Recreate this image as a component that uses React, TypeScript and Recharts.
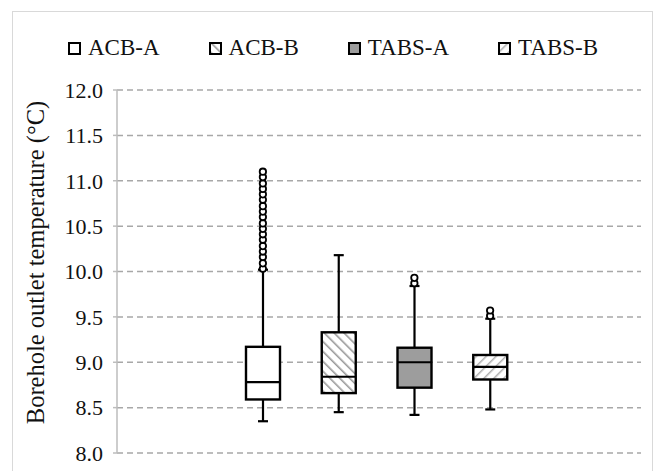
import React from "react";
import { ComposedChart, Bar, Scatter, XAxis, YAxis, CartesianGrid, Label } from "recharts";

const groups = ["ACB-A", "ACB-B", "TABS-A", "TABS-B"];
const mins = [8.35, 8.45, 8.42, 8.48];
const q1s = [8.59, 8.66, 8.72, 8.81];
const medians = [8.78, 8.84, 9.0, 8.95];
const q3s = [9.17, 9.33, 9.16, 9.08];
const maxs = [10.02, 10.18, 9.84, 9.48];

const outliersAcbA = [
  10.03, 10.09, 10.16, 10.22, 10.28, 10.35, 10.41, 10.47, 10.53,
  10.6, 10.66, 10.72, 10.79, 10.85, 10.91, 10.97, 11.04, 11.1,
];
const outliersTabsA = [9.87, 9.93];
const outliersTabsB = [9.51, 9.57];

const yTicks = [8, 8.5, 9, 9.5, 10, 10.5, 11, 11.5, 12];

const rows = groups.map((name, i) => ({
  name,
  range: [mins[i], maxs[i]],
  q1: q1s[i],
  median: medians[i],
  q3: q3s[i],
  min: mins[i],
  max: maxs[i],
}));

const outliers = [
  ...outliersAcbA.map(v => ({ name: "ACB-A", value: v })),
  ...outliersTabsA.map(v => ({ name: "TABS-A", value: v })),
  ...outliersTabsB.map(v => ({ name: "TABS-B", value: v })),
];

const FONT = "Liberation Serif";
const HATCH = "#9a9a9a";

const fills: Record<string, string> = {
  "ACB-A": "#ffffff",
  "ACB-B": "url(#hatch-back)",
  "TABS-A": "#9d9d9d",
  "TABS-B": "url(#hatch-fwd)",
};

function Patterns() {
  return (
    <defs>
      <pattern id="hatch-back" patternUnits="userSpaceOnUse" width="7" height="7" patternTransform="rotate(-45)">
        <rect width="7" height="7" fill="#fff" />
        <line x1="0" y1="0" x2="0" y2="7" stroke={HATCH} strokeWidth="3.2" />
      </pattern>
      <pattern id="hatch-fwd" patternUnits="userSpaceOnUse" width="7" height="7" patternTransform="rotate(45)">
        <rect width="7" height="7" fill="#fff" />
        <line x1="0" y1="0" x2="0" y2="7" stroke="#b0b0b0" strokeWidth="3" />
      </pattern>
    </defs>
  );
}

function BoxShape(props: any) {
  const { x, y, width, height, payload } = props;
  const top = Math.min(y, y + height);
  const h = Math.abs(height);
  const ppu = h / (payload.max - payload.min);
  const yOf = (v: number) => top + (payload.max - v) * ppu;
  const cx = x + width / 2;
  const cap = 5;
  const yq3 = yOf(payload.q3);
  const yq1 = yOf(payload.q1);
  const ym = yOf(payload.median);
  return (
    <g>
      <line x1={cx} x2={cx} y1={top} y2={top + h} stroke="#000" strokeWidth={2.2} />
      <line x1={cx - cap} x2={cx + cap} y1={top} y2={top} stroke="#000" strokeWidth={2.2} />
      <line x1={cx - cap} x2={cx + cap} y1={top + h} y2={top + h} stroke="#000" strokeWidth={2.2} />
      <rect x={x} y={yq3} width={width} height={yq1 - yq3} fill={fills[payload.name]} stroke="#000" strokeWidth={2.4} />
      <line x1={x} x2={x + width} y1={ym} y2={ym} stroke="#000" strokeWidth={2.2} />
    </g>
  );
}

function OutlierDot(props: any) {
  const { cx, cy } = props;
  return <circle cx={cx} cy={cy} r={3.2} fill="#fff" stroke="#000" strokeWidth={1.8} />;
}

function LegendIcon({ name }: { name: string }) {
  return (
    <svg width={13} height={13} style={{ display: "block" }}>
      <Patterns />
      <rect x={1} y={1} width={11} height={11} fill={fills[name]} stroke="#000" strokeWidth={2} />
    </svg>
  );
}

function YLabel(props: any) {
  const { viewBox } = props;
  const cy = viewBox.y + viewBox.height / 2 - 9;
  const x = 44;
  return (
    <text
      x={x}
      y={cy}
      transform={`rotate(-90, ${x}, ${cy})`}
      textAnchor="middle"
      fontFamily={FONT}
      fontSize={24.5}
      fill="#111"
    >
      Borehole outlet temperature (°C)
    </text>
  );
}

export default function App() {
  return (
    <div style={{ position: "absolute", left: 0, top: 0, width: 657, height: 471, overflow: "hidden", background: "#fff" }}>
      <div style={{ position: "absolute", left: 12, top: 11, width: 639, height: 500, border: "1px solid #d9d9d9" }} />
      <div
        style={{
          position: "absolute",
          top: 35,
          left: 68,
          display: "flex",
          alignItems: "center",
          fontFamily: FONT,
          fontSize: 23,
          color: "#111",
          lineHeight: "26px",
        }}
      >
        {groups.map((g, i) => (
          <div key={g} style={{ display: "flex", alignItems: "center", marginRight: i < groups.length - 1 ? 49 : 0 }}>
            <LegendIcon name={g} />
            <span style={{ marginLeft: 7 }}>{g}</span>
          </div>
        ))}
      </div>
      <div style={{ position: "absolute", left: 0, top: 0 }}>
        <ComposedChart width={657} height={471} data={rows} margin={{ top: 90, right: 16, left: 0, bottom: 18 }}>
          <Patterns />
          <CartesianGrid vertical={false} stroke="#a8a8a8" strokeDasharray="6 4" strokeWidth={1.5} />
          <XAxis
            dataKey="name"
            type="category"
            hide
            allowDuplicatedCategory={false}
            padding={{ left: 108, right: 113 }}
          />
          <YAxis
            width={117}
            domain={[8, 12]}
            ticks={yTicks}
            interval={0}
            tickFormatter={(v: number) => v.toFixed(1)}
            axisLine={{ stroke: "#bdbdbd", strokeWidth: 1.5 }}
            tickLine={{ stroke: "#bdbdbd", strokeWidth: 1.5 }}
            tickSize={4}
            tickMargin={10}
            tick={{ fontFamily: FONT, fontSize: 22, fill: "#111" }}
          >
            <Label content={<YLabel />} />
          </YAxis>
          <Bar dataKey="range" barSize={34} shape={<BoxShape />} isAnimationActive={false} />
          <Scatter data={outliers} dataKey="value" shape={<OutlierDot />} isAnimationActive={false} />
        </ComposedChart>
      </div>
    </div>
  );
}
